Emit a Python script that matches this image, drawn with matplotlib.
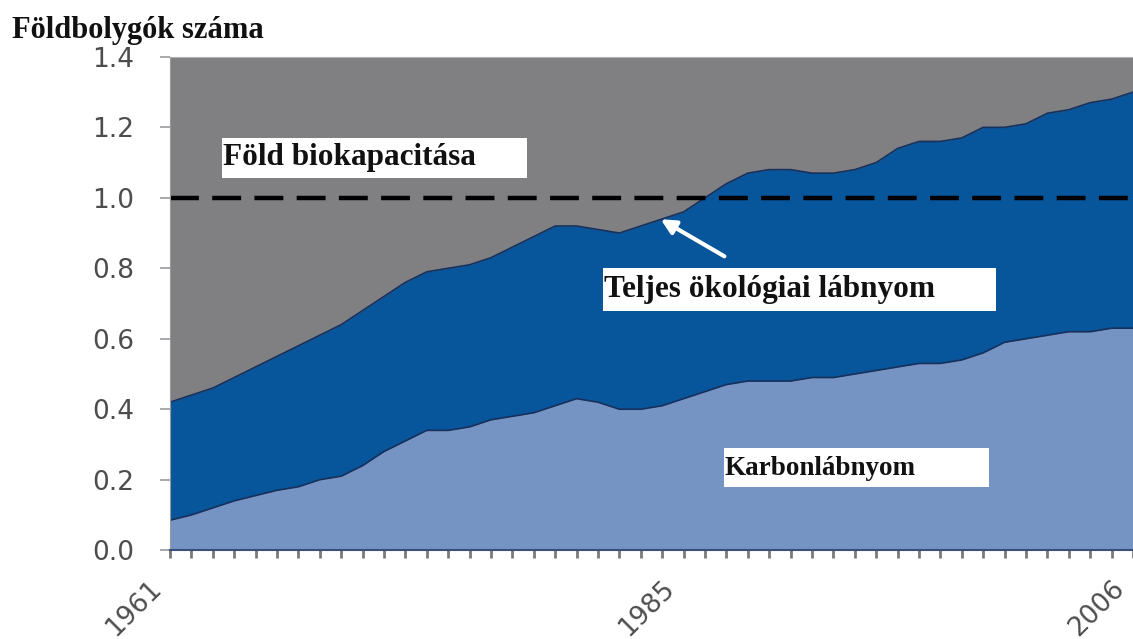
import numpy as np
import matplotlib.pyplot as plt
import matplotlib.transforms as mtransforms
from matplotlib.patches import Rectangle

# adatok
years = list(range(1961, 2007))
total = [0.42, 0.44, 0.46, 0.49, 0.52, 0.55, 0.58, 0.61, 0.64, 0.68,
         0.72, 0.76, 0.79, 0.80, 0.81, 0.83, 0.86, 0.89, 0.92, 0.92,
         0.91, 0.90, 0.92, 0.94, 0.96, 1.00, 1.04, 1.07, 1.08, 1.08,
         1.07, 1.07, 1.08, 1.10, 1.14, 1.16, 1.16, 1.17, 1.20, 1.20,
         1.21, 1.24, 1.25, 1.27, 1.28, 1.30]
carbon = [0.085, 0.10, 0.12, 0.14, 0.155, 0.17, 0.18, 0.20, 0.21, 0.24,
          0.28, 0.31, 0.34, 0.34, 0.35, 0.37, 0.38, 0.39, 0.41, 0.43,
          0.42, 0.40, 0.40, 0.41, 0.43, 0.45, 0.47, 0.48, 0.48, 0.48,
          0.49, 0.49, 0.50, 0.51, 0.52, 0.53, 0.53, 0.54, 0.56, 0.59,
          0.60, 0.61, 0.62, 0.62, 0.63, 0.63]
yticks = [0.0, 0.2, 0.4, 0.6, 0.8, 1.0, 1.2, 1.4]
xlabels = {1961: '1961', 1985: '1985', 2006: '2006'}

c_gray = '#808083'
c_dark = '#07569c'
c_light = '#7593c3'
c_edge = '#17305c'
c_tick = '#4d4d4d'

fig = plt.figure(figsize=(11.33, 6.39), dpi=100)
ax = fig.add_axes([0.150, 0.139, 0.850, 0.772])
ax.set_facecolor(c_gray)

ax.fill_between(years, carbon, total, color=c_dark, lw=0)
ax.fill_between(years, 0, carbon, color=c_light, lw=0)
ax.plot(years, total, color=c_edge, lw=1.2)
ax.plot(years, carbon, color=c_edge, lw=1.2)

ax.axhline(1.0, color='black', lw=3.2, dashes=(6.5, 3))

ax.set_xlim(1961, 2006)
ax.set_ylim(0, 1.4)

ax.set_yticks(yticks)
ax.set_yticklabels([f'{v:.1f}' for v in yticks], fontsize=19, color=c_tick)
ax.tick_params(axis='y', length=7, width=1.2, color='#999999', pad=19)

ax.set_xticks(years, minor=True)
ax.set_xticks(list(xlabels.keys()))
ax.set_xticklabels(list(xlabels.values()), fontsize=19, color=c_tick,
                   rotation=45, ha='right', va='top', rotation_mode='anchor')
ax.tick_params(axis='x', which='both', length=6, width=2, color='#7a7a7a', pad=12)
shift = mtransforms.ScaledTranslation(-0.22, 0, fig.dpi_scale_trans)
for lab in ax.get_xticklabels():
    lab.set_transform(lab.get_transform() + shift)

for s in ['right']:
    ax.spines[s].set_visible(False)
ax.spines['top'].set_color('#b0b0b0')
ax.spines['left'].set_color('#999999')
ax.spines['bottom'].set_color('#3a4f7a')
ax.spines['bottom'].set_linewidth(1.5)

# címkék fehér dobozban
serif = ['Liberation Serif', 'DejaVu Serif']
boxes = [
    (1963.45, 1.057, 14.25, 0.113, 'Föld biokapacitása', 1.114, 22.5),
    (1981.24, 0.679, 18.36, 0.122, 'Teljes ökológiai lábnyom', 0.739, 22.5),
    (1986.88, 0.179, 12.38, 0.111, 'Karbonlábnyom', 0.233, 19.5),
]
for x0, y0, w, h, label, ty, fs in boxes:
    ax.add_patch(Rectangle((x0, y0), w, h, facecolor='white', edgecolor='none', zorder=4))
    ax.text(x0 + 0.05, ty, label, family=serif, fontweight='bold', fontsize=fs,
            color='#111111', ha='left', va='center', zorder=5)

ax.annotate('', xy=(1983.82, 0.943), xytext=(1987.02, 0.830),
            arrowprops=dict(arrowstyle='-|>', color='white', lw=3,
                            mutation_scale=22), zorder=5)

fig.text(0.0106, 0.94, 'Földbolygók száma', family=serif, fontweight='bold',
         fontsize=22, color='#111111', ha='left', va='baseline')

fig.savefig('out.png', dpi=100)
